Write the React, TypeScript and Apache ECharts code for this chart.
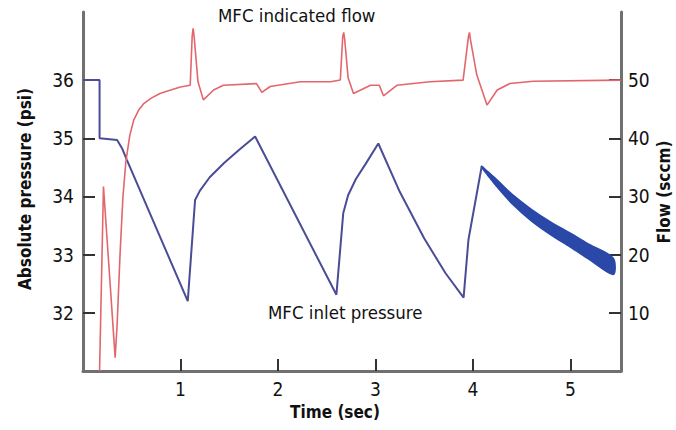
import React, { useEffect, useRef } from "react";
import * as echarts from "echarts";

// MFC indicated flow (sccm, right axis)
const redTime = [0.17, 0.21, 0.33, 0.35, 0.38, 0.41, 0.44, 0.48, 0.52, 0.57, 0.62, 0.70, 0.79, 0.90, 1.0, 1.10, 1.12, 1.13, 1.14, 1.18, 1.235, 1.34, 1.44, 1.78, 1.835, 1.92, 2.23, 2.54, 2.64, 2.665, 2.675, 2.685, 2.72, 2.775, 2.95, 3.04, 3.083, 3.22, 3.56, 3.90, 3.955, 3.965, 3.975, 4.04, 4.145, 4.25, 4.38, 4.62, 5.52];
const redFlow = [0, 31.7, 2.3, 8, 20, 30, 36, 40.5, 43.1, 44.8, 45.9, 46.9, 47.7, 48.3, 48.8, 49.1, 57.5, 58.9, 57.5, 49.7, 46.6, 48.3, 49.1, 49.4, 47.9, 48.9, 49.7, 49.7, 50.0, 57.5, 58.2, 57.0, 50.4, 47.7, 49.1, 49.1, 47.3, 49.1, 49.7, 50.0, 57.5, 58.2, 57.0, 50.9, 45.7, 48.3, 49.4, 49.8, 50.0];

// MFC inlet pressure (psi, left axis)
const blueTime = [0, 0.17, 0.17, 0.35, 0.40, 0.45, 1.075, 1.15, 1.20, 1.30, 1.45, 1.60, 1.766, 2.60, 2.67, 2.72, 2.80, 2.90, 3.03, 3.25, 3.50, 3.72, 3.905, 3.955, 4.09];
const bluePsi = [36, 36, 35, 34.97, 34.83, 34.63, 32.20, 33.94, 34.10, 34.33, 34.58, 34.80, 35.03, 32.31, 33.71, 34.02, 34.30, 34.56, 34.91, 34.08, 33.28, 32.68, 32.26, 33.26, 34.51];

// noisy tail of the pressure trace (band)
const bandTime = [4.09, 4.15, 4.25, 4.4, 4.6, 4.8, 5.0, 5.2, 5.44];
const bandUpper = [34.52, 34.43, 34.28, 34.04, 33.78, 33.56, 33.37, 33.17, 32.94];
const bandLower = [34.50, 34.37, 34.16, 33.88, 33.58, 33.34, 33.13, 32.91, 32.66];

const xTicks = [1, 2, 3, 4, 5];
const psiTicks = [32, 33, 34, 35, 36];
const flowTicks = [10, 20, 30, 40, 50];

const FONT = "'Liberation Sans Narrow', 'DejaVu Sans Condensed', 'Roboto', sans-serif";

export default function App() {
  const ref = useRef<HTMLDivElement>(null);
  useEffect(() => {
    if (!ref.current) return;
    const chart = echarts.init(ref.current, null, { renderer: "svg" });
    const axisLine = { show: true, lineStyle: { color: "#707070", width: 3 } };
    const axisTick = (vals: number[]) => ({
      show: true,
      inside: true,
      length: 12,
      customValues: vals,
      lineStyle: { color: "#333", width: 2 },
    });
    const label = (vals: number[], margin: number) => ({
      show: true,
      customValues: vals,
      color: "#111",
      fontSize: 19,
      fontFamily: FONT,
      margin,
    });
    chart.setOption({
      animation: false,
      backgroundColor: "#ffffff",
      grid: { left: 83, right: 55, top: 12, bottom: 59, containLabel: false },
      xAxis: {
        type: "value",
        min: 0,
        max: 5.52,
        axisLine,
        axisTick: axisTick(xTicks),
        axisLabel: label(xTicks, 8),
        splitLine: { show: false },
      },
      yAxis: [
        {
          type: "value",
          min: 31,
          max: 37.17,
          position: "left",
          axisLine,
          axisTick: axisTick(psiTicks),
          axisLabel: label(psiTicks, 9),
          splitLine: { show: false },
        },
        {
          type: "value",
          min: 0,
          max: 61.7,
          position: "right",
          axisLine,
          axisTick: axisTick(flowTicks),
          axisLabel: label(flowTicks, 7),
          splitLine: { show: false },
        },
      ],
      series: [
        {
          type: "line",
          name: "MFC indicated flow",
          yAxisIndex: 1,
          data: redTime.map((t, i) => [t, redFlow[i]]),
          symbol: "none",
          clip: true,
          lineStyle: { color: "#e2666c", width: 1.6 },
          z: 3,
        },
        {
          type: "line",
          name: "MFC inlet pressure",
          yAxisIndex: 0,
          data: blueTime.map((t, i) => [t, bluePsi[i]]),
          symbol: "none",
          clip: true,
          lineStyle: { color: "#4a4d96", width: 2 },
          z: 2,
        },
        {
          type: "custom",
          name: "pressure band",
          yAxisIndex: 0,
          data: bandTime.map((t, i) => [t, bandUpper[i], bandLower[i]]),
          encode: { x: 0, y: [1, 2] },
          renderItem: (params: any, api: any) => {
            if (params.dataIndex !== 0) return null;
            const up = bandTime.map((t, i) => api.coord([t, bandUpper[i]]));
            const lo = bandTime.map((t, i) => api.coord([t, bandLower[i]])).reverse();
            return {
              type: "polygon",
              shape: { points: up.concat(lo), smooth: 0.3 },
              style: { fill: "#2a48a8", stroke: "#2a48a8", lineWidth: 1.5 },
            };
          },
          z: 2,
        },
      ],
      graphic: [
        {
          type: "text",
          left: 218,
          top: 6,
          style: { text: "MFC indicated flow", fill: "#111", font: `18.5px ${FONT}` },
        },
        {
          type: "text",
          left: 268,
          top: 303,
          style: { text: "MFC inlet pressure", fill: "#111", font: `18.5px ${FONT}` },
        },
        {
          type: "text",
          x: 25,
          y: 189,
          rotation: Math.PI / 2,
          style: {
            text: "Absolute pressure (psi)",
            fill: "#111",
            font: `bold 17px ${FONT}`,
            align: "center",
            verticalAlign: "middle",
          },
        },
        {
          type: "text",
          x: 664,
          y: 192,
          rotation: Math.PI / 2,
          style: {
            text: "Flow (sccm)",
            fill: "#111",
            font: `bold 17px ${FONT}`,
            align: "center",
            verticalAlign: "middle",
          },
        },
        {
          type: "text",
          x: 335,
          y: 412,
          style: {
            text: "Time (sec)",
            fill: "#111",
            font: `bold 17px ${FONT}`,
            align: "center",
            verticalAlign: "middle",
          },
        },
      ],
    });
    return () => chart.dispose();
  }, []);
  return (
    <div
      ref={ref}
      style={{ position: "fixed", left: 0, top: 0, width: 676, height: 430, background: "#fff" }}
    />
  );
}
